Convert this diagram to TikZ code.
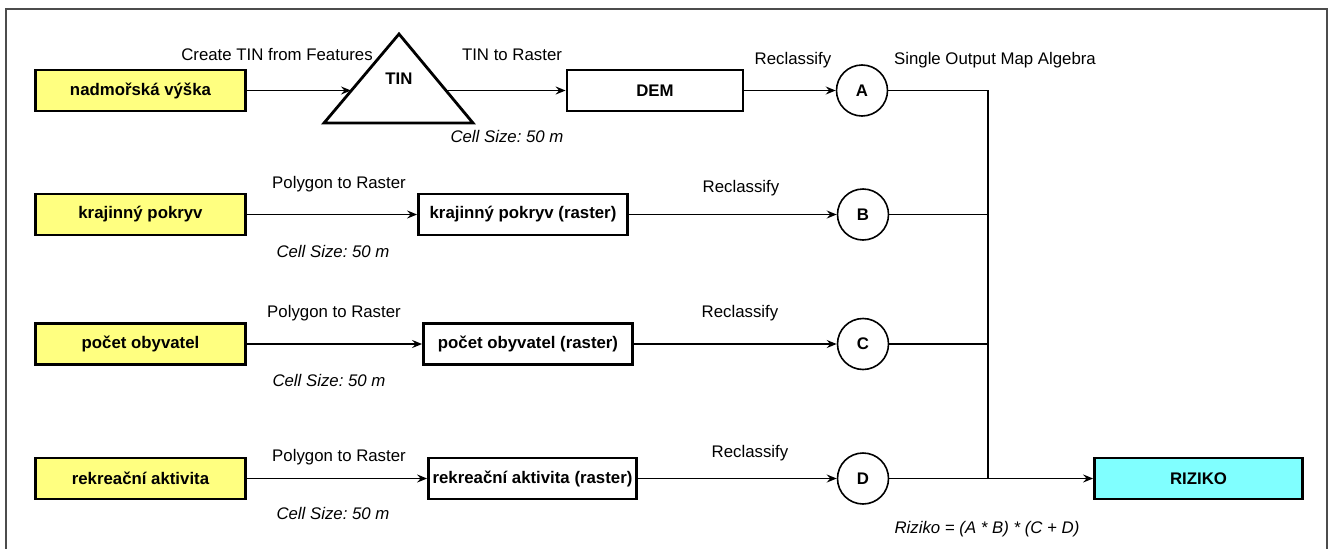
\documentclass[tikz,border=0pt]{standalone}
\usepackage{fontspec}
\setmainfont{Liberation Sans}
\usetikzlibrary{arrows.meta}
\definecolor{inyellow}{HTML}{FFFF80}
\definecolor{outcyan}{HTML}{80FFFF}
\frenchspacing

\begin{document}
\begin{tikzpicture}[x=1pt,y=-1pt,
  font=\fontsize{16.8}{19}\selectfont,
  databox/.style={draw,line width=2.8pt,minimum height=41pt,inner sep=0pt,font=\fontsize{16.8}{19}\selectfont\bfseries},
  opnode/.style={circle,draw,line width=1.6pt,minimum size=51pt,inner sep=0pt,font=\fontsize{16.8}{19}\selectfont\bfseries},
  flow/.style={line width=1.8pt,-{Stealth[length=10pt,width=8pt,inset=3.5pt]}},
  wire/.style={line width=1.8pt},
  cellsz/.style={font=\fontsize{16.8}{19}\selectfont\itshape}]

\useasboundingbox (0,0) rectangle (1331,549);

% Frame
\draw[line width=1.4pt,black!70] (6,560) -- (6,9) -- (1327,9) -- (1327,560);

% Inputs
\node[databox,fill=inyellow,minimum width=210pt] (vyska) at (140.5,90.5) {nadmořská výška};
\node[databox,fill=inyellow,minimum width=210pt] (pokryv) at (140.5,214.5) {krajinný pokryv};
\node[databox,fill=inyellow,minimum width=210pt] (obyv) at (140.5,344) {počet obyvatel};
\node[databox,fill=inyellow,minimum width=210pt] (rekr) at (140.5,478.5) {rekreační aktivita};

% TIN
\draw[line width=2.8pt] (324,123) -- (399,34) -- (473,123) -- cycle;
\node[font=\fontsize{16.8}{19}\selectfont\bfseries] (tin) at (399,79) {TIN};
\coordinate (tinL) at (351,90.5);
\coordinate (tinR) at (447,90.5);

% Rasters
\node[databox,minimum width=176pt] (dem) at (655,90.5) {DEM};
\node[databox,minimum width=209pt] (pokryvR) at (523,214.5) {krajinný pokryv (raster)};
\node[databox,minimum width=209pt] (obyvR) at (528,344) {počet obyvatel (raster)};
\node[databox,minimum width=208pt] (rekrR) at (532.5,478.5) {rekreační aktivita (raster)};

% Reclassified
\node[opnode] (a) at (862,90.5) {A};
\node[opnode] (b) at (863,214.5) {B};
\node[opnode] (c) at (863,344) {C};
\node[opnode] (d) at (863,478.5) {D};

% Output
\node[databox,fill=outcyan,minimum width=208pt] (riziko) at (1198.5,478.5) {RIZIKO};

% Connectors
\draw[flow] (vyska) -- (tinL);
\draw[flow] (tinR) -- (dem);
\draw[flow] (dem) -- (a);
\draw[flow] (pokryv) -- (pokryvR);
\draw[flow] (pokryvR) -- (b);
\draw[flow] (obyv) -- (obyvR);
\draw[flow] (obyvR) -- (c);
\draw[flow] (rekr) -- (rekrR);
\draw[flow] (rekrR) -- (d);
\coordinate (busA) at (988,90.5);
\coordinate (busD) at (988,478.5);
\draw[wire] (a) -- (busA) -- (busD);
\draw[wire] (b) -- (b -| busA);
\draw[wire] (c) -- (c -| busA);
\draw[flow] (d) -- (riziko);

% Labels
\node at (277,55) {Create TIN from Features};
\node at (512,55) {TIN to Raster};
\node[cellsz] at (507,136) {Cell Size: 50 m};
\node at (793,60) {Reclassify};
\node at (995,60) {Single Output Map Algebra};

\node at (339,184) {Polygon to Raster};
\node[cellsz] at (333,251) {Cell Size: 50 m};
\node at (741,188) {Reclassify};

\node at (334,313) {Polygon to Raster};
\node[cellsz] at (329,380) {Cell Size: 50 m};
\node at (740,313) {Reclassify};

\node at (339,457) {Polygon to Raster};
\node[cellsz] at (333,513) {Cell Size: 50 m};
\node at (750,453) {Reclassify};

\node[cellsz] at (987,529) {Riziko = (A * B) * (C + D)};

\end{tikzpicture}
\end{document}
